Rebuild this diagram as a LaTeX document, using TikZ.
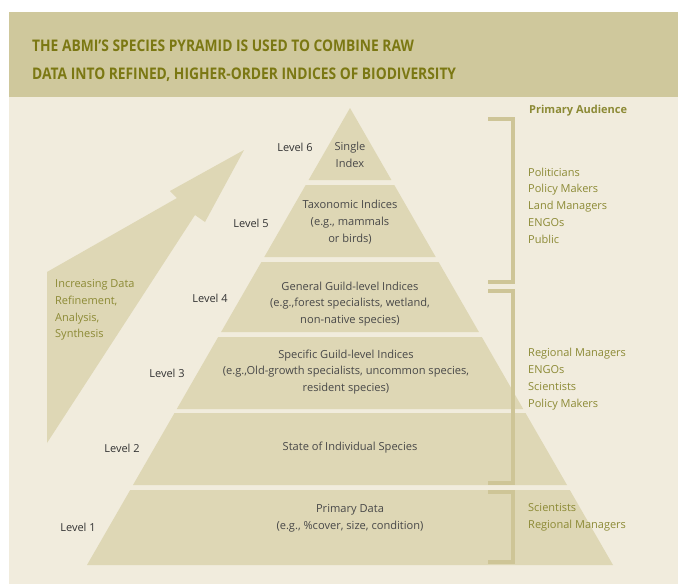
\documentclass[tikz,border=0pt]{standalone}
\usepackage{fontspec}
\usepackage{graphicx}
\setmainfont{Open Sans}
\definecolor{band}{HTML}{CFC89C}
\definecolor{bgc}{HTML}{F1ECDD}
\definecolor{pyr}{HTML}{DED7B5}
\definecolor{titlecol}{HTML}{7B7813}
\definecolor{olive}{HTML}{8C8A35}
\definecolor{lvl}{HTML}{333333}
\definecolor{bodyc}{HTML}{484848}
\definecolor{brk}{HTML}{CEC597}
\tikzset{
  tier/.style={fill=pyr, draw=none},
  lvltext/.style={text=lvl, font=\fontsize{11}{16.8}\selectfont, inner sep=0pt},
  pyrtext/.style={text=bodyc, font=\fontsize{11.1}{16.8}\selectfont, align=center, inner sep=0pt},
  audtext/.style={text=olive, font=\fontsize{11}{16.8}\selectfont, align=left, anchor=west, inner sep=0pt},
  bracketline/.style={draw=brk, line width=4pt}
}
\begin{document}
\begin{tikzpicture}[x=1pt,y=-1pt]
\useasboundingbox (0,0) rectangle (678,584);
\fill[white] (0,0) rectangle (678,584);
\fill[bgc] (9,12) rectangle (678,584);
\fill[band] (9,12) rectangle (678,97);
% title
\node[anchor=west, text=titlecol, font=\bfseries\fontsize{16}{28}\selectfont, align=left, inner sep=0pt] (title) at (32,61)
  {\scalebox{0.862}[1]{THE ABMI’S SPECIES PYRAMID IS USED TO COMBINE RAW}\\
   \scalebox{0.862}[1]{DATA INTO REFINED, HIGHER-ORDER INDICES OF BIODIVERSITY}};
% arrow
\fill[pyr] (47,272) -- (177,198) -- (170,191) -- (244,150) -- (205,222) -- (195,215) -- (47,443) -- cycle;
\node[audtext] (incr) at (55,310) {Increasing Data\\Refinement,\\Analysis,\\Synthesis};
% pyramid tiers
\fill[tier] (350,108) -- (391.4,180) -- (308.6,180) -- cycle;
\fill[tier] (305.7,185) -- (394.3,185) -- (435.7,257) -- (264.3,257) -- cycle;
\fill[tier] (261.4,262) -- (438.6,262) -- (478.9,332) -- (221.1,332) -- cycle;
\fill[tier] (218.2,337) -- (481.8,337) -- (523.2,409) -- (176.8,409) -- cycle;
\fill[tier] (174.5,413) -- (525.5,413) -- (567,485) -- (133,485) -- cycle;
\fill[tier] (130.2,490) -- (569.8,490) -- (613,565) -- (87,565) -- cycle;
% brackets
\draw[bracketline] (488,119) -- (513,119) -- (513,282) -- (488,282);
\draw[bracketline] (488,291) -- (513,291) -- (513,483) -- (488,483);
\draw[bracketline] (488,492) -- (513,492) -- (513,562) -- (488,562);
% tier texts
\node[pyrtext] (t6) at (350,155) {Single\\Index};
\node[pyrtext] (t5) at (350,222) {Taxonomic Indices\\(e.g., mammals\\or birds)};
\node[pyrtext] (t4) at (350,304) {General Guild-level Indices\\(e.g.,forest specialists, wetland,\\non-native species)};
\node[pyrtext] (t3) at (346,372) {Specific Guild-level Indices\\(e.g.,Old-growth specialists, uncommon species,\\resident species)};
\node[pyrtext] (t2) at (350,448) {State of Individual Species};
\node[pyrtext] (t1) at (350,518.5) {Primary Data\\(e.g., \%cover, size, condition)};
% level labels
\node[lvltext] (l6) at (295,147) {Level 6};
\node[lvltext] (l5) at (251,223) {Level 5};
\node[lvltext] (l4) at (210,298) {Level 4};
\node[lvltext] (l3) at (167,373) {Level 3};
\node[lvltext] (l2) at (122,448) {Level 2};
\node[lvltext] (l1) at (78,527) {Level 1};
% audience
\node[audtext, font=\bfseries\fontsize{11}{16.8}\selectfont] (aud) at (529,111) {Primary Audience};
\node[audtext] (a1) at (528,205.5) {Politicians\\Policy Makers\\Land Managers\\ENGOs\\Public};
\node[audtext] (a2) at (528,379) {Regional Managers\\ENGOs\\Scientists\\Policy Makers};
\node[audtext] (a3) at (528,517.5) {Scientists\\Regional Managers};
\end{tikzpicture}
\end{document}
